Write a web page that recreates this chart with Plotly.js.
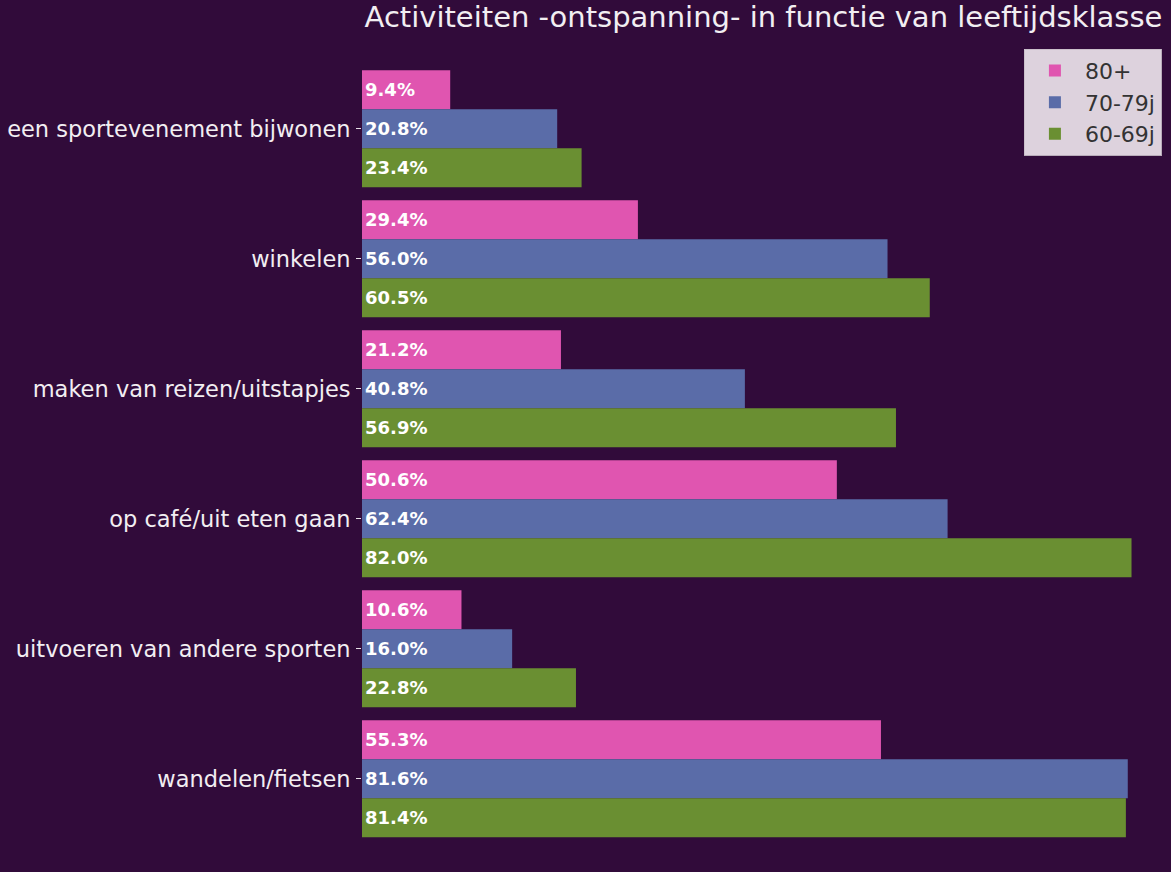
<!DOCTYPE html>
<html>
<head>
<meta charset="utf-8">
<script src="https://cdn.plot.ly/plotly-3.0.1.min.js"></script>
<style>html,body{margin:0;padding:0;background:#310b3a;}#chart{width:1171px;height:872px;}</style>
</head>
<body>
<div id="chart"></div>
<script>
const categories = ["een sportevenement bijwonen", "winkelen", "maken van reizen/uitstapjes", "op café/uit eten gaan", "uitvoeren van andere sporten", "wandelen/fietsen"];
const seriesNames = ["80+", "70-79j", "60-69j"];
const values80 = [9.4, 29.4, 21.2, 50.6, 10.6, 55.3];
const values70 = [20.8, 56.0, 40.8, 62.4, 16.0, 81.6];
const values60 = [23.4, 60.5, 56.9, 82.0, 22.8, 81.4];
const colors = ["#e055b0", "#5a6ca8", "#6a8f32"];
const allValues = [values80, values70, values60];

const traces = allValues.map((vals, i) => ({
  type: "bar",
  orientation: "h",
  name: seriesNames[i],
  y: categories,
  x: vals,
  marker: {color: colors[i], line: {width: 0}},
  text: vals.map(v => v.toFixed(1) + "%"),
  textposition: "inside",
  insidetextanchor: "start",
  textangle: 0,
  textfont: {family: "DejaVu Sans", size: 18, color: "#ffffff", weight: "bold"},
  constraintext: "none",
  cliponaxis: false,
  hoverinfo: "skip"
}));

const layout = {
  width: 1171,
  height: 872,
  paper_bgcolor: "#310b3a",
  plot_bgcolor: "#310b3a",
  margin: {l: 362, r: 1, t: 32, b: 0, pad: 0},
  barmode: "group",
  bargap: 0.1,
  bargroupgap: 0,
  showlegend: true,
  title: {
    text: "Activiteiten -ontspanning- in functie van leeftijdsklasse",
    font: {family: "DejaVu Sans", size: 29, color: "#f2eef2"},
    x: 0.652, xanchor: "center", y: 0.992, yanchor: "top"
  },
  xaxis: {
    range: [0, 86.1],
    showticklabels: false,
    showgrid: false,
    zeroline: false,
    ticks: "",
    showline: false
  },
  yaxis: {
    type: "category",
    range: [5.717, -0.745],
    showgrid: false,
    zeroline: false,
    showline: false,
    ticks: "outside",
    ticklen: 5,
    tickwidth: 1,
    tickcolor: "#e8e0e8",
    ticklabelstandoff: 1,
    tickfont: {family: "DejaVu Sans", size: 22.5, color: "#f2eef2"}
  },
  legend: {
    x: 0.99, xanchor: "right",
    y: 0.98, yanchor: "top",
    bgcolor: "rgba(235,228,235,0.92)",
    bordercolor: "rgba(200,190,200,0.9)",
    borderwidth: 1,
    traceorder: "normal",
    font: {family: "DejaVu Sans", size: 22, color: "#333333"},
    itemwidth: 50,
    tracegroupgap: 0
  }
};

Plotly.newPlot("chart", traces, layout, {displayModeBar: false, staticPlot: true});
</script>
</body>
</html>
